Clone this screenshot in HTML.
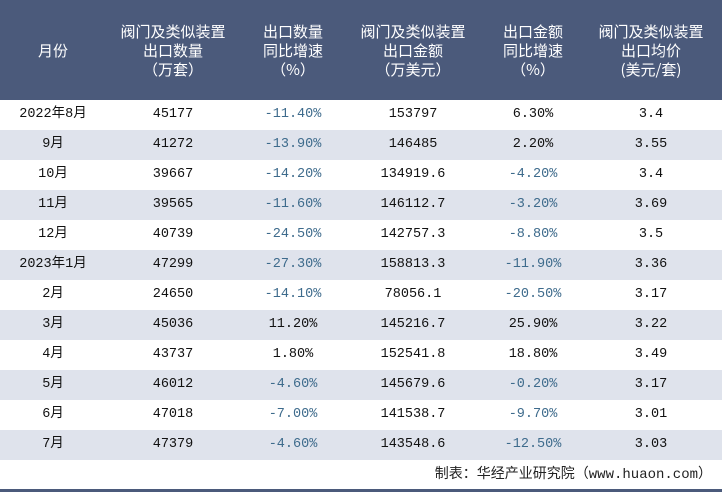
<!DOCTYPE html>
<html><head><meta charset="utf-8"><style>
body{margin:0;width:722px;height:492px;background:#fff;position:relative;overflow:hidden;font-family:"Liberation Mono","Noto Sans CJK SC",monospace;}
.hdr{position:absolute;left:0;top:0;width:722px;height:100px;background:#4b5a7b;}
.h{position:absolute;top:0;height:100px;display:flex;align-items:center;justify-content:center;text-align:center;color:#fff;font-family:"Noto Sans CJK SC",sans-serif;font-size:15px;line-height:19px;}
.row{position:absolute;left:0;width:722px;height:30px;}
.c{position:absolute;top:0;height:30px;line-height:30px;text-align:center;font-size:13.5px;color:#111;}
.neg{color:#3e6b8c;}
.foot{position:absolute;right:10px;top:463px;font-size:14px;color:#222;font-family:"Liberation Mono","Noto Sans CJK SC",monospace;}
.bar{position:absolute;left:0;top:489px;width:722px;height:3px;background:#4b5a7b;}
</style></head><body>
<div class="hdr"></div>
<div class="h" style="left:0;width:106px">月份</div>
<div class="h" style="left:113px;width:120px">阀门及类似装置<br>出口数量<br>（万套）</div>
<div class="h" style="left:233px;width:120px">出口数量<br>同比增速<br>（%）</div>
<div class="h" style="left:353px;width:120px">阀门及类似装置<br>出口金额<br>（万美元）</div>
<div class="h" style="left:473px;width:120px">出口金额<br>同比增速<br>（%）</div>
<div class="h" style="left:593px;width:116px">阀门及类似装置<br>出口均价<br>(美元/套)</div>
<div id="body"></div>
<div class="foot">制表：华经产业研究院（www.huaon.com）</div>
<div class="bar"></div>
<script>
const months=["2022年8月","9月","10月","11月","12月","2023年1月","2月","3月","4月","5月","6月","7月"];
const qty=["45177","41272","39667","39565","40739","47299","24650","45036","43737","46012","47018","47379"];
const qtyYoy=["-11.40%","-13.90%","-14.20%","-11.60%","-24.50%","-27.30%","-14.10%","11.20%","1.80%","-4.60%","-7.00%","-4.60%"];
const amt=["153797","146485","134919.6","146112.7","142757.3","158813.3","78056.1","145216.7","152541.8","145679.6","141538.7","143548.6"];
const amtYoy=["6.30%","2.20%","-4.20%","-3.20%","-8.80%","-11.90%","-20.50%","25.90%","18.80%","-0.20%","-9.70%","-12.50%"];
const price=["3.4","3.55","3.4","3.69","3.5","3.36","3.17","3.22","3.49","3.17","3.01","3.03"];
const cols=[[0,106],[113,120],[233,120],[353,120],[473,120],[593,116]];
const body=document.getElementById('body');
months.forEach((m,i)=>{
  const r=document.createElement('div');
  r.className='row';
  
  
  r.style.top=(100+i*30)+'px';
  r.style.background=i%2?'#dfe3ec':'#fff';
  const vals=[m,qty[i],qtyYoy[i],amt[i],amtYoy[i],price[i]];
  vals.forEach((v,j)=>{
    const c=document.createElement('div');
    c.className='c'+((j==2||j==4)&&v.startsWith('-')?' neg':'');
    
    
    c.style.left=cols[j][0]+'px';c.style.width=cols[j][1]+'px';
    c.textContent=v;
    r.appendChild(c);
  });
  body.appendChild(r);
});
</script>
</body></html>
